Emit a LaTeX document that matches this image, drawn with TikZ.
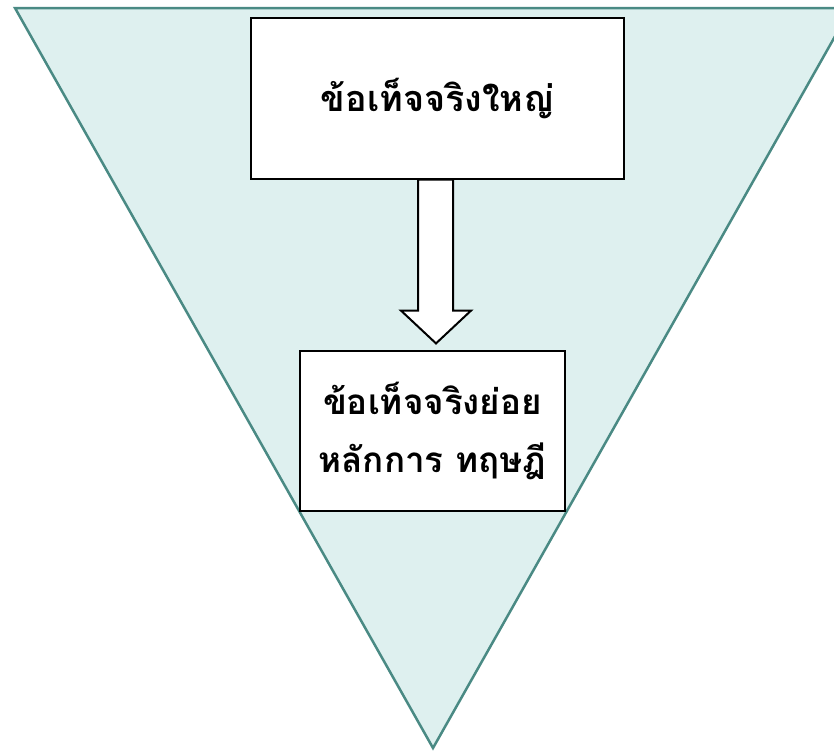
\documentclass[tikz,border=0pt]{standalone}
\usepackage{fontspec}
\newfontfamily\thaifont[Script=Thai]{Loma}
\usetikzlibrary{calc}
\definecolor{trifill}{HTML}{DEF0EF}
\definecolor{tristroke}{HTML}{4A8A84}
\tikzset{
  factbox/.style={draw=black, line width=1.2pt, fill=white, align=center, inner sep=0pt},
  bigarrow/.style={draw=black, line width=2pt, fill=white, line join=miter}
}
\begin{document}
\begin{tikzpicture}[x=1pt,y=-1pt]
\useasboundingbox (0,0) rectangle (834,750);
\coordinate (tl) at (15,8);
\coordinate (tr) at (851,8);
\coordinate (bt) at (433,748);
\fill[trifill] (tl) -- (tr) -- (bt) -- cycle;
\draw[tristroke, line width=2.5pt, line join=miter] (tl) -- (tr) -- (bt) -- cycle;
\node[factbox, minimum width=373pt, minimum height=161pt, font=\thaifont\bfseries\fontsize{36}{58}\selectfont] (big) at (437.5,98.5) {ข้อเท็จจริงใหญ่};
\node[factbox, minimum width=265pt, minimum height=160pt, font=\thaifont\bfseries\fontsize{35}{58}\selectfont] (small) at (432.5,431) {ข้อเท็จจริงย่อย\\หลักการ ทฤษฎี};
\draw[bigarrow] ($(big.south)+(-19.5,0)$) -- ($(big.south)+(15.5,0)$) -- ($(big.south)+(15.5,131)$) -- ($(big.south)+(33.5,131)$)
  -- ($(small.north)+(3.5,-7)$) -- ($(big.south)+(-36.5,131)$) -- ($(big.south)+(-19.5,131)$) -- cycle;
\end{tikzpicture}
\end{document}
